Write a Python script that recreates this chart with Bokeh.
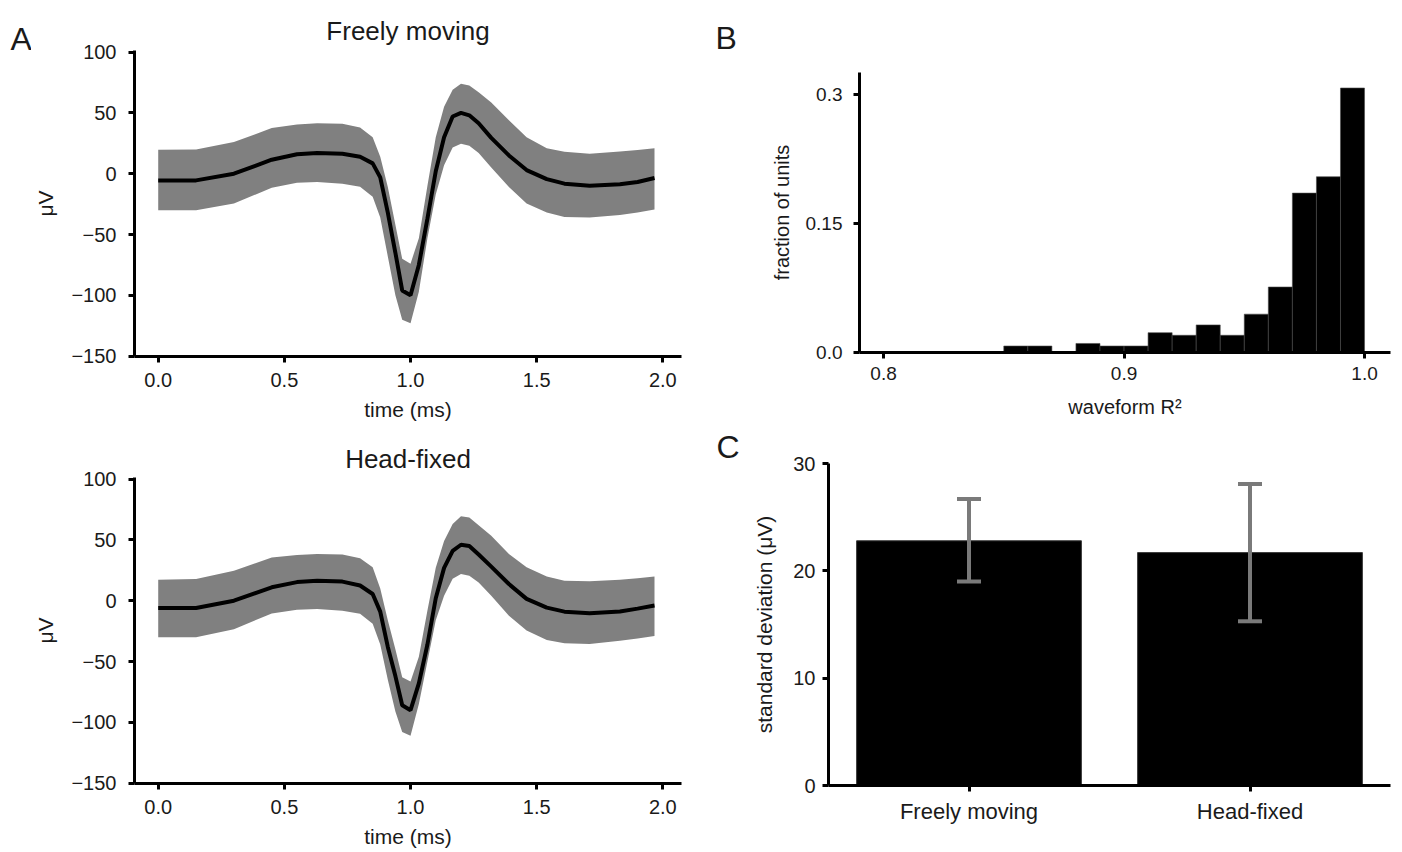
from bokeh.plotting import figure
from bokeh.models import (ColumnDataSource, FixedTicker, Label, Range1d, FactorRange,
                          Whisker, TeeHead)
from bokeh.layouts import row, column
from bokeh.embed import file_html
from bokeh.resources import INLINE

FONT = "Liberation Sans"
TXT = "#1a1a1a"

# ---------------- data ----------------
t_ms = [0.0, 0.15, 0.3, 0.45, 0.55, 0.63, 0.73, 0.80, 0.85, 0.88, 0.91, 0.94, 0.967,
        1.0, 1.033, 1.067, 1.1, 1.133, 1.167, 1.2, 1.233, 1.27, 1.32, 1.39, 1.46,
        1.54, 1.61, 1.71, 1.83, 1.9, 1.967]

free_mean = [-5.5, -5.5, 0, 11.5, 16, 17, 16.4, 14, 8.5, -3, -32, -65, -96,
             -100, -75, -37, 2, 30, 47, 50, 48, 41.5, 29.5, 15, 3,
             -4.5, -8.2, -10, -8.7, -6.8, -3.5]
free_upper = [19.7, 20, 26, 37.5, 40.5, 41.5, 41, 38, 30, 14, -11, -42, -70,
              -74, -53, -10, 30, 55, 69, 74, 72.5, 67, 58.5, 44, 30,
              21, 18, 16.4, 18.3, 19.5, 21]
free_lower = [-30, -30, -24.6, -11.5, -7.5, -6.8, -8.2, -10.7, -19, -36, -68, -100, -120,
              -123, -97, -53, -17, 7, 21.5, 24.6, 23, 17, 5, -11, -24.5,
              -32, -35.5, -36, -34, -32, -29.5]

head_mean = [-6, -6, 0, 11, 15.3, 16.5, 15.7, 12.5, 5.5, -9, -38, -62, -86,
             -90, -68, -36, 2, 27, 41, 46, 45, 38, 28, 13.7, 1.5,
             -5.7, -9, -10.4, -8.8, -6.5, -4]
head_upper = [17.3, 17.9, 24.7, 35.5, 37.5, 38.5, 38, 35, 27.5, 10, -16, -40, -63,
              -66.5, -46, -8, 27, 49, 63, 69.5, 68.5, 62, 53.5, 38.5, 27.5,
              19.8, 16.5, 16, 17.3, 18.5, 19.8]
head_lower = [-30, -30, -23.4, -10.5, -7.5, -6.9, -8.2, -10.8, -19, -36, -65, -91, -108,
              -111, -85, -50, -16, 4, 18, 22, 20.5, 15, 4, -12.4, -24.5,
              -32.4, -35, -35.7, -33, -31, -29]

r2_left = [0.80, 0.81, 0.82, 0.83, 0.84, 0.85, 0.86, 0.87, 0.88, 0.89,
           0.90, 0.91, 0.92, 0.93, 0.94, 0.95, 0.96, 0.97, 0.98, 0.99]
r2_right = [0.81, 0.82, 0.83, 0.84, 0.85, 0.86, 0.87, 0.88, 0.89, 0.90,
            0.91, 0.92, 0.93, 0.94, 0.95, 0.96, 0.97, 0.98, 0.99, 1.00]
r2_frac = [0.0, 0.0, 0.001, 0.0005, 0.0005, 0.0075, 0.0075, 0.001, 0.0105, 0.0075,
           0.0075, 0.023, 0.02, 0.032, 0.02, 0.0445, 0.076, 0.185, 0.204, 0.307]

conditions = ["Freely moving", "Head-fixed"]
sd_mean = [22.8, 21.7]
sd_low = [19.0, 15.3]
sd_high = [26.7, 28.1]

wave_xticks = [0.0, 0.5, 1.0, 1.5, 2.0]
wave_xlabels = {0.0: "0.0", 0.5: "0.5", 1.0: "1.0", 1.5: "1.5", 2.0: "2.0"}
wave_yticks = [-150, -100, -50, 0, 50, 100]
wave_ylabels = {-150: "\u2212150", -100: "\u2212100", -50: "\u221250", 0: "0", 50: "50", 100: "100"}
hist_xticks = [0.8, 0.9, 1.0]
hist_xlabels = {0.8: "0.8", 0.9: "0.9", 1.0: "1.0"}
hist_yticks = [0.0, 0.15, 0.3]
hist_ylabels = {0.0: "0.0", 0.15: "0.15", 0.3: "0.3"}
bar_yticks = [0, 10, 20, 30]


def style(p, tick_size="20px", label_size="21px"):
    p.outline_line_color = None
    p.xgrid.grid_line_color = None
    p.ygrid.grid_line_color = None
    p.background_fill_color = "white"
    p.border_fill_color = "white"
    for ax in p.axis:
        ax.axis_line_width = 3
        ax.axis_line_color = "black"
        ax.major_tick_line_width = 3
        ax.major_tick_line_color = "black"
        ax.major_tick_out = 6
        ax.major_tick_in = 0
        ax.minor_tick_out = 0
        ax.minor_tick_in = 0
        ax.major_label_text_font = FONT
        ax.major_label_text_font_size = tick_size
        ax.major_label_text_color = TXT
        ax.axis_label_text_font = FONT
        ax.axis_label_text_font_size = label_size
        ax.axis_label_text_font_style = "normal"
        ax.axis_label_text_color = TXT


def letter_strip(width, letters):
    """Narrow blank figure whose frame holds the panel letters (y measured from top)."""
    p = figure(width=width, height=850, output_backend="svg", toolbar_location=None,
               x_range=Range1d(0, width), y_range=Range1d(850, 0),
               x_axis_location=None, y_axis_location=None,
               min_border_left=0, min_border_right=0, min_border_top=0, min_border_bottom=0)
    p.outline_line_color = None
    p.grid.grid_line_color = None
    p.background_fill_color = "white"
    p.border_fill_color = "white"
    for text, x, y in letters:
        p.add_layout(Label(x=x, y=y, text=text, text_align="left",
                           text_baseline="alphabetic", text_font=FONT,
                           text_font_size="32px", text_color=TXT))
    return p


def wave_panel(title, mean, upper, lower, top, bottom, standoff):
    p = figure(width=677, height=425, output_backend="svg", toolbar_location=None,
               x_range=Range1d(-0.094, 2.074), y_range=Range1d(-150.3, 101.3),
               min_border_left=103, min_border_right=27,
               min_border_top=top, min_border_bottom=bottom,
               title=title)
    src = ColumnDataSource(dict(t=t_ms, m=mean, u=upper, l=lower))
    p.varea(x="t", y1="l", y2="u", source=src, fill_color="#808080")
    p.line(x="t", y="m", source=src, line_color="black", line_width=4)
    style(p)
    p.title.text_font = FONT
    p.title.text_font_size = "26px"
    p.title.text_font_style = "normal"
    p.title.text_color = TXT
    p.title.align = "center"
    p.title.vertical_align = "bottom"
    p.title.standoff = standoff
    p.xaxis.ticker = FixedTicker(ticks=wave_xticks)
    p.xaxis.major_label_overrides = wave_xlabels
    p.yaxis.ticker = FixedTicker(ticks=wave_yticks)
    p.yaxis.major_label_overrides = wave_ylabels
    p.xaxis.axis_label = "time (ms)"
    p.yaxis.axis_label = "\u03bcV"
    p.xaxis.major_label_standoff = 10
    p.xaxis.axis_label_standoff = 8
    p.yaxis.major_label_standoff = 12
    p.yaxis.axis_label_standoff = 11
    return p


pA1 = wave_panel("Freely moving", free_mean, free_upper, free_lower, 50, 69, 9)
pA2 = wave_panel("Head-fixed", head_mean, head_upper, head_lower, 52, 67, 8)
stripA = letter_strip(31, [("A", 10, 38)])

# ---------------- histogram (B) ----------------
pB = figure(width=655, height=425, output_backend="svg", toolbar_location=None,
            x_range=Range1d(0.790, 1.0108), y_range=Range1d(0, 0.325),
            min_border_left=114, min_border_right=10, min_border_top=72, min_border_bottom=73)
hsrc = ColumnDataSource(dict(l=r2_left, r=r2_right, top=r2_frac, b=[0] * len(r2_frac)))
pB.quad(left="l", right="r", top="top", bottom="b", source=hsrc,
        fill_color="black", line_color="#4a4a4a", line_width=0.6)
style(pB, tick_size="19px", label_size="20px")
pB.xaxis.ticker = FixedTicker(ticks=hist_xticks)
pB.xaxis.major_label_overrides = hist_xlabels
pB.yaxis.ticker = FixedTicker(ticks=hist_yticks)
pB.yaxis.major_label_overrides = hist_ylabels
pB.xaxis.axis_label = "waveform R\u00b2"
pB.yaxis.axis_label = "fraction of units"
pB.xaxis.major_label_standoff = 8
pB.xaxis.axis_label_standoff = 13
pB.yaxis.major_label_standoff = 11
pB.yaxis.axis_label_standoff = 10

# ---------------- bar chart (C) ----------------
pC = figure(width=655, height=425, output_backend="svg", toolbar_location=None,
            x_range=FactorRange(factors=conditions, range_padding=0),
            y_range=Range1d(0, 30),
            min_border_left=83, min_border_right=10, min_border_top=38, min_border_bottom=65)
bsrc = ColumnDataSource(dict(c=conditions, v=sd_mean, lo=sd_low, hi=sd_high))
pC.vbar(x="c", top="v", width=0.8, source=bsrc, fill_color="black",
        line_color="#3a3a3a", line_width=1)
wk = Whisker(base="c", upper="hi", lower="lo", source=bsrc, level="overlay",
             line_color="#7a7a7a", line_width=4,
             upper_head=TeeHead(size=24, line_color="#7a7a7a", line_width=4),
             lower_head=TeeHead(size=24, line_color="#7a7a7a", line_width=4))
pC.add_layout(wk)
style(pC, tick_size="20px", label_size="21px")
pC.xaxis.major_label_text_font_size = "22px"
pC.yaxis.ticker = FixedTicker(ticks=bar_yticks)
pC.yaxis.axis_label = "standard deviation (\u03bcV)"
pC.xaxis.major_label_standoff = 7
pC.yaxis.major_label_standoff = 7
pC.yaxis.axis_label_standoff = 14

stripBC = letter_strip(37, [("B", 7, 37), ("C", 8, 446)])

layout = row(stripA, column(pA1, pA2), stripBC, column(pB, row(pC)))
open("out.html", "w").write(file_html(layout, INLINE))
